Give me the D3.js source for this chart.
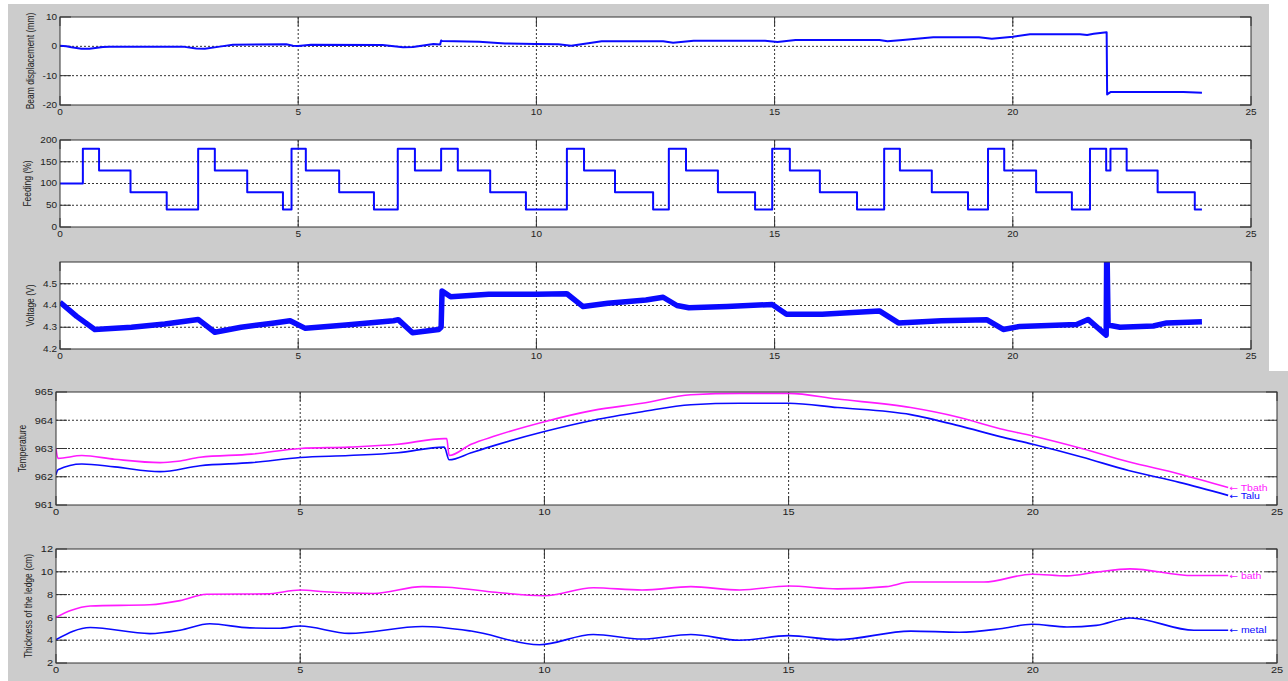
<!DOCTYPE html>
<html>
<head>
<meta charset="utf-8">
<script src="https://cdn.jsdelivr.net/npm/d3@7"></script>
<style>
  body { margin: 0; background: #fff; }
  svg { display: block; font-family: "Liberation Sans", Arial, sans-serif; }
</style>
</head>
<body>
<svg id="chart" width="1288" height="681"></svg>
<script>
// Time axis (hours) shared by every panel
var timeTicks = [0, 5, 10, 15, 20, 25];

// Beam displacement (mm)
var beamTime  = [0, 0.13, 0.24, 0.45, 0.62, 0.9, 1.04, 2.58, 2.86, 3.04, 3.35, 3.63, 4.75, 4.89, 5.0, 5.27, 6.77, 7.2, 7.41, 7.84,
                 7.98, 8.0, 8.02, 8.8, 9.34, 9.98, 10.46, 10.73, 11.16, 11.37, 12.66, 12.87, 13.3, 14.8, 15.06, 15.44, 17.2, 17.37, 17.69, 18.33,
                 19.29, 19.56, 20.0, 20.36, 21.41, 21.56, 21.7, 21.97, 21.98, 22.05, 23.58, 23.97];
var beamValue = [0.2, 0, -0.34, -0.8, -0.8, -0.23, -0.1, -0.1, -0.7, -0.8, -0.1, 0.57, 0.7, 0.2, 0.1, 0.57, 0.45, -0.34, -0.2, 0.8,
                 0.6, 2.0, 1.8, 1.6, 1.0, 0.8, 0.7, 0.23, 1.25, 1.7, 1.7, 1.25, 1.93, 1.93, 1.48, 2.16, 2.16, 1.7, 2.16, 3.07,
                 3.07, 2.6, 3.3, 4.1, 4.1, 3.9, 4.3, 4.8, -16.4, -15.6, -15.6, -15.8];
var beamTicks = [-20, -10, 0, 10];

// Feeding (%) : step changes
var feedStart = [0, 0.48, 0.82, 1.48, 2.24, 2.90, 3.25, 3.93, 4.68, 4.86, 5.16, 5.86, 6.59, 7.09, 7.45, 8.00, 8.35, 9.03, 9.78, 10.64,
                 11.00, 11.65, 12.45, 12.78, 13.14, 13.81, 14.59, 14.95, 15.32, 15.95, 16.73, 17.30, 17.63, 18.30, 19.06, 19.48, 19.82, 20.49, 21.24, 21.62,
                 21.96, 22.05, 22.39, 23.04, 23.82];
var feedLevel = [100, 180, 130, 80, 40, 180, 130, 80, 40, 180, 130, 80, 40, 180, 130, 180, 130, 80, 40, 180,
                 130, 80, 40, 180, 130, 80, 40, 180, 130, 80, 40, 180, 130, 80, 40, 180, 130, 80, 40, 180,
                 130, 180, 130, 80, 40];
var feedEnd = 23.97;
var feedTicks = [0, 50, 100, 150, 200];

// Voltage (V)
var voltTime  = [0, 0.35, 0.73, 1.5, 2.2, 2.9, 3.25, 3.8, 4.5, 4.83, 5.15, 6.0, 7.0, 7.1, 7.4, 7.95, 8.0, 8.02, 8.2, 9.0,
                 10.0, 10.64, 10.98, 11.5, 12.3, 12.66, 12.95, 13.2, 14.0, 14.95, 15.25, 16.0, 17.2, 17.6, 18.5, 19.45, 19.8, 20.15, 21.34, 21.58,
                 21.96, 21.97, 21.98, 22.0, 22.25, 22.95, 23.23, 23.97];
var voltValue = [4.415, 4.35, 4.29, 4.30, 4.315, 4.336, 4.277, 4.30, 4.32, 4.33, 4.295, 4.31, 4.33, 4.335, 4.275, 4.29, 4.30, 4.467, 4.44, 4.452,
                 4.452, 4.454, 4.395, 4.41, 4.425, 4.438, 4.40, 4.39, 4.395, 4.405, 4.36, 4.36, 4.375, 4.32, 4.33, 4.335, 4.29, 4.304, 4.313, 4.336,
                 4.264, 4.62, 4.62, 4.31, 4.30, 4.306, 4.32, 4.325];
var voltTicks = [4.2, 4.3, 4.4, 4.5];

// Temperature
var tbathTime  = [0, 0.04, 0.53, 1.2, 2.13, 2.5, 2.95, 4.0, 5.0, 6.0, 7.0, 7.95, 8.0, 8.05, 8.5, 9.0, 10.0, 11.0, 12.0, 13.0,
                  14.0, 15.0, 16.0, 17.5, 18.5, 19.33, 20.0, 21.0, 21.96, 23.0, 24.0];
var tbathValue = [963.0, 962.65, 962.75, 962.62, 962.5, 962.55, 962.69, 962.8, 963.0, 963.05, 963.15, 963.35, 963.35, 962.75, 963.15, 963.45, 963.95, 964.35, 964.6, 964.9,
                  964.95, 964.95, 964.75, 964.45, 964.1, 963.7, 963.44, 963.0, 962.53, 962.1, 961.62];
var taluTime   = [0, 0.04, 0.53, 1.2, 2.13, 2.95, 4.0, 5.0, 6.0, 7.0, 7.95, 8.05, 8.5, 9.0, 10.0, 11.0, 12.0, 13.0, 14.0, 15.0,
                  16.0, 17.5, 18.5, 19.33, 20.0, 21.0, 21.96, 23.0, 24.0];
var taluValue  = [962.07, 962.25, 962.45, 962.35, 962.18, 962.39, 962.5, 962.68, 962.75, 962.85, 963.05, 962.6, 962.85, 963.12, 963.6, 964.0, 964.3, 964.55, 964.6, 964.6,
                  964.45, 964.2, 963.8, 963.42, 963.15, 962.7, 962.22, 961.8, 961.34];
var tempTicks = [961, 962, 963, 964, 965];

// Thickness of the ledge (cm)
var bathTime   = [0, 0.3, 0.7, 1.92, 2.54, 3.08, 4.31, 5.0, 5.5, 6.5, 7.5, 8.0, 9.0, 10.0, 11.0, 12.0, 13.0, 14.0, 15.0, 16.0,
                  17.0, 17.5, 19.0, 19.98, 20.7, 21.3, 21.99, 23.28, 24.0];
var bathValue  = [6.0, 6.6, 7.0, 7.11, 7.47, 8.03, 8.06, 8.4, 8.25, 8.1, 8.7, 8.65, 8.2, 7.9, 8.6, 8.4, 8.7, 8.4, 8.75, 8.5,
                  8.7, 9.1, 9.1, 9.79, 9.64, 9.97, 10.26, 9.67, 9.67];
var metalTime  = [0, 0.7, 1.92, 2.54, 3.15, 3.97, 4.59, 5.0, 6.0, 7.5, 8.5, 9.9, 11.0, 12.0, 13.0, 14.0, 15.0, 16.0, 17.5, 18.5,
                  19.33, 19.98, 20.7, 21.3, 22.0, 23.3, 24.0];
var metalValue = [4.05, 5.11, 4.58, 4.88, 5.44, 5.08, 5.05, 5.24, 4.6, 5.2, 4.8, 3.6, 4.5, 4.1, 4.5, 4.0, 4.4, 4.05, 4.8, 4.7,
                  5.0, 5.4, 5.16, 5.3, 5.95, 4.87, 4.87];
var ledgeTicks = [2, 4, 6, 8, 10, 12];

var BLUE = "#0a0aff", MAGENTA = "#ff1aff";

var svg = d3.select("#chart");

// figure backgrounds (two stacked figure captures)
svg.append("rect").attr("x", 8).attr("y", 4).attr("width", 1261).attr("height", 367).attr("fill", "#cccccc");
svg.append("rect").attr("x", 8).attr("y", 371).attr("width", 1280).attr("height", 310).attr("fill", "#cccccc");

var feedT = feedStart.concat([feedEnd]);
var feedV = feedLevel.concat([feedLevel[feedLevel.length - 1]]);

var panels = [
  { left: 60, right: 1251, top: 17, bottom: 105, domain: [-20, 10], ticks: beamTicks, font: 10,
    label: "Beam displacement (mm)", labelX: 30,
    series: [{ t: beamTime, v: beamValue, color: BLUE, width: 2, curve: d3.curveLinear }] },
  { left: 60, right: 1251, top: 140, bottom: 227, domain: [0, 200], ticks: feedTicks, font: 10,
    label: "Feeding (%)", labelX: 27,
    series: [{ t: feedT, v: feedV, color: BLUE, width: 2, curve: d3.curveStepAfter }] },
  { left: 60, right: 1251, top: 262, bottom: 349, domain: [4.2, 4.6], ticks: voltTicks, font: 10,
    label: "Voltage (V)", labelX: 30,
    series: [{ t: voltTime, v: voltValue, color: BLUE, width: 5.5, curve: d3.curveLinear }] },
  { left: 56, right: 1277, top: 392, bottom: 505, domain: [961, 965], ticks: tempTicks, font: 11,
    label: "Temperature", labelX: 22,
    series: [{ t: tbathTime, v: tbathValue, color: MAGENTA, width: 1.6, curve: d3.curveMonotoneX, name: "Tbath" },
             { t: taluTime, v: taluValue, color: BLUE, width: 1.6, curve: d3.curveMonotoneX, name: "Talu" }] },
  { left: 56, right: 1277, top: 549, bottom: 663, domain: [2, 12], ticks: ledgeTicks, font: 11,
    label: "Thickness of the ledge (cm)", labelX: 28,
    series: [{ t: bathTime, v: bathValue, color: MAGENTA, width: 1.6, curve: d3.curveMonotoneX, name: "bath" },
             { t: metalTime, v: metalValue, color: BLUE, width: 1.6, curve: d3.curveMonotoneX, name: "metal" }] }
];

// text is a little squashed vertically in the captured figure
var SQ = 0.85;

panels.forEach(function(p, i) {
  var x = d3.scaleLinear().domain([0, 25]).range([p.left, p.right]);
  var y = d3.scaleLinear().domain(p.domain).range([p.bottom, p.top]);
  var g = svg.append("g");

  g.append("rect")
      .attr("x", p.left).attr("y", p.top)
      .attr("width", p.right - p.left).attr("height", p.bottom - p.top)
      .attr("fill", "#fff");

  // dotted grid
  g.selectAll(".gx").data(timeTicks.slice(1, -1)).enter().append("line")
      .attr("x1", function(d) { return x(d); }).attr("x2", function(d) { return x(d); })
      .attr("y1", p.top).attr("y2", p.bottom)
      .attr("stroke", "#333").attr("stroke-dasharray", "2,2");
  g.selectAll(".gy").data(p.ticks.filter(function(d) { return d > p.domain[0] && d < p.domain[1]; })).enter().append("line")
      .attr("x1", p.left).attr("x2", p.right)
      .attr("y1", function(d) { return y(d); }).attr("y2", function(d) { return y(d); })
      .attr("stroke", "#333").attr("stroke-dasharray", "2,2");

  // tick marks inside the box
  timeTicks.forEach(function(d) {
    g.append("line").attr("x1", x(d)).attr("x2", x(d)).attr("y1", p.bottom).attr("y2", p.bottom - 9).attr("stroke", "#333");
    g.append("line").attr("x1", x(d)).attr("x2", x(d)).attr("y1", p.top).attr("y2", p.top + 9).attr("stroke", "#333");
  });
  p.ticks.forEach(function(d) {
    g.append("line").attr("x1", p.left).attr("x2", p.left + 11).attr("y1", y(d)).attr("y2", y(d)).attr("stroke", "#333");
    g.append("line").attr("x1", p.right).attr("x2", p.right - 11).attr("y1", y(d)).attr("y2", y(d)).attr("stroke", "#333");
  });

  // data lines, clipped to the axes
  var clipId = "clip" + i;
  svg.append("clipPath").attr("id", clipId).append("rect")
      .attr("x", p.left).attr("y", p.top)
      .attr("width", p.right - p.left).attr("height", p.bottom - p.top);

  p.series.forEach(function(s) {
    var line = d3.line()
        .x(function(d) { return x(d[0]); })
        .y(function(d) { return y(d[1]); })
        .curve(s.curve);
    g.append("path")
        .datum(d3.zip(s.t, s.v))
        .attr("clip-path", "url(#" + clipId + ")")
        .attr("fill", "none")
        .attr("stroke", s.color)
        .attr("stroke-width", s.width)
        .attr("stroke-linejoin", "round")
        .attr("d", line);

    // "<- name" annotation at the end of the line
    if (s.name) {
      var tEnd = s.t[s.t.length - 1], vEnd = s.v[s.v.length - 1];
      var lab = g.append("text")
          .attr("transform", "translate(" + (x(tEnd) + 1) + "," + y(vEnd) + ") scale(1," + SQ + ")")
          .attr("dy", "0.35em")
          .attr("font-size", 10.5)
          .attr("fill", s.color);
      lab.append("tspan").attr("font-family", "DejaVu Sans").text("\u2190");
      lab.append("tspan").text(" " + s.name);
    }
  });

  // box
  g.append("rect")
      .attr("x", p.left).attr("y", p.top)
      .attr("width", p.right - p.left).attr("height", p.bottom - p.top)
      .attr("fill", "none").attr("stroke", "#333");

  // tick labels
  p.ticks.forEach(function(d) {
    g.append("text")
        .attr("transform", "translate(" + (p.left - 3) + "," + y(d) + ") scale(1," + SQ + ")")
        .attr("dy", "0.35em")
        .attr("text-anchor", "end")
        .attr("font-size", p.font)
        .attr("fill", "#222")
        .text(d);
  });
  timeTicks.forEach(function(d) {
    g.append("text")
        .attr("transform", "translate(" + x(d) + "," + (p.bottom + 7) + ") scale(1," + SQ + ")")
        .attr("dy", "0.35em")
        .attr("text-anchor", "middle")
        .attr("font-size", p.font)
        .attr("fill", "#222")
        .text(d);
  });

  // y label
  g.append("text")
      .attr("transform", "translate(" + p.labelX + "," + ((p.top + p.bottom) / 2) + ") scale(1," + SQ + ") rotate(-90)")
      .attr("dy", "0.35em")
      .attr("text-anchor", "middle")
      .attr("font-size", 10)
      .attr("fill", "#222")
      .text(p.label);
});
</script>
</body>
</html>
